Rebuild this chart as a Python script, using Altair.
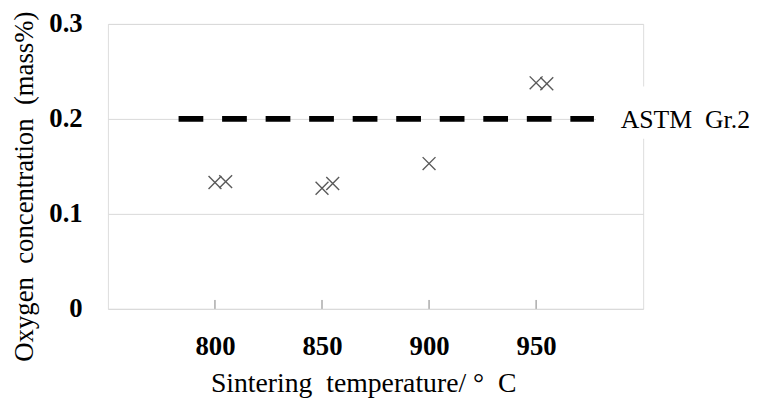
import altair as alt
import pandas as pd

# ---- data ----
temps = [800, 805, 850, 855, 900, 950, 955]
oxygen = [0.133, 0.134, 0.127, 0.132, 0.153, 0.238, 0.237]

astm_start = [783]
astm_end = [977]
astm_level = [0.2]
astm_label = ["ASTM\u00a0 Gr.2"]
astm_label_x = [989.5]

x_ticks = [800, 850, 900, 950]
y_ticks = [0, 0.1, 0.2, 0.3]
x_domain = [750, 1000]
y_domain = [0, 0.3]

# gap in the right frame behind the label
gap_x = [978]
gap_x2 = [1040]
gap_y = [0.179]
gap_y2 = [0.234]

pts = pd.DataFrame({"t": temps, "o": oxygen})
line_df = pd.DataFrame({"t": astm_start, "t2": astm_end, "o": astm_level})
label_df = pd.DataFrame({"t": astm_label_x, "o": astm_level, "text": astm_label})
tick_df = pd.DataFrame({"t": x_ticks, "o": [0] * len(x_ticks)})
gap_df = pd.DataFrame({"t": gap_x, "t2": gap_x2, "o": gap_y, "o2": gap_y2})

FONT = "Liberation Serif"

xscale = alt.Scale(domain=x_domain, nice=False, zero=False)
yscale = alt.Scale(domain=y_domain, nice=False)

x_axis = alt.Axis(
    values=x_ticks, title="Sintering\u00a0 temperature/ °\u00a0 C", grid=False, domain=False,
    ticks=False, labelFont=FONT, labelFontSize=27, labelFontWeight="bold",
    labelColor="black", labelPadding=25, titleFont=FONT, titleFontSize=28,
    titleFontWeight="normal", titleColor="black", titleX=258, titleY=84,
    titleAlign="center", titleBaseline="alphabetic",
)
y_axis = alt.Axis(
    values=y_ticks, title="Oxygen\u00a0 concentration\u00a0 (mass%)", grid=True,
    gridColor="#d9d9d9", gridWidth=1, domain=False, ticks=False,
    labelFont=FONT, labelFontSize=27, labelFontWeight="bold", labelColor="black",
    labelPadding=26,
    labelExpr="datum.value == 0 ? '0' : format(datum.value, '.1f')",
    titleFont=FONT, titleFontSize=27, titleFontWeight="normal", titleColor="black",
    titleAngle=270, titleX=-76, titleY=164, titleAlign="center",
    titleBaseline="alphabetic",
)

X = alt.X("t:Q", scale=xscale, axis=x_axis)
Y = alt.Y("o:Q", scale=yscale, axis=y_axis)

points = alt.Chart(pts).mark_point(
    shape="M-1,-1L1,1M1,-1L-1,1", filled=False, size=169, strokeWidth=1.4,
    color="#5a5a5a", opacity=1,
).encode(x=X, y=Y)

ticks = alt.Chart(tick_df).mark_rule(color="#808080", strokeWidth=1).encode(
    x=X,
    y=alt.value(288),
    y2=alt.value(279),
)

astm = alt.Chart(line_df).mark_rule(
    color="black", strokeWidth=6, strokeDash=[25, 19]
).encode(x=X, x2="t2:Q", y=Y)

gap = alt.Chart(gap_df).mark_rect(color="white", clip=False).encode(
    x=X, x2="t2:Q", y=Y, y2="o2:Q",
)

label = alt.Chart(label_df).mark_text(
    font=FONT, fontSize=26, color="black", align="left", baseline="middle", dy=1,
).encode(x=X, y=Y, text="text:N")

chart = alt.layer(ticks, astm, points, gap, label).properties(
    width=541,
    height=288,
    padding={"left": 101, "top": 14, "right": 108, "bottom": 88},
    autosize=alt.AutoSizeParams(type="none"),
).configure_view(
    stroke="#808080", strokeWidth=1,
).configure(background="white")

chart.save("out.html", embed_options={"renderer": "svg", "actions": False})
